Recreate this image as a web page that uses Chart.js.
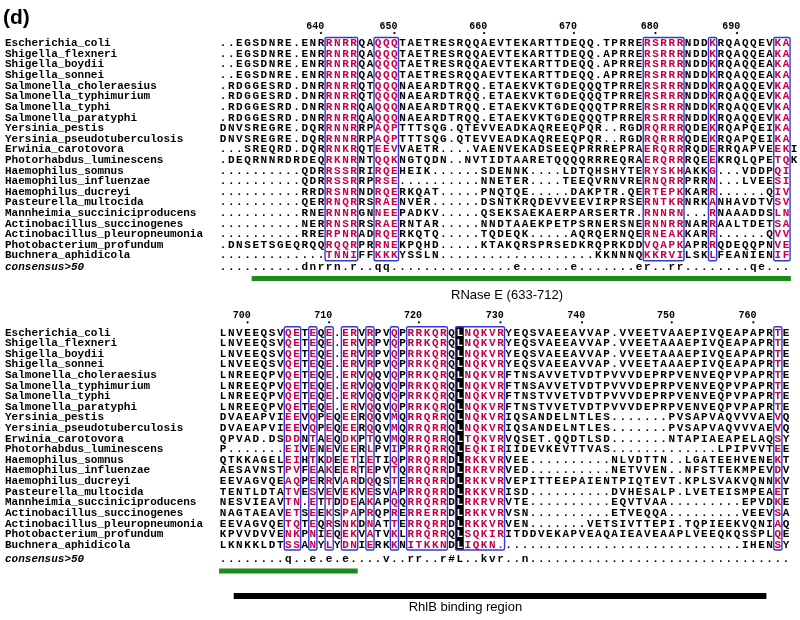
<!DOCTYPE html>
<html>
<head>
<meta charset="utf-8">
<script src="https://cdn.jsdelivr.net/npm/chart.js@4.4.1/dist/chart.umd.min.js"></script>
<style>
  html, body { margin: 0; padding: 0; background: #fff; }
  #wrap { width: 800px; height: 620px; }
</style>
</head>
<body>
<div id="wrap"><canvas id="aln" width="800" height="620"></canvas></div>
<script>
// RNase E C-terminal alignment, panel (d)

const species = [
    'Escherichia_coli', 'Shigella_flexneri', 'Shigella_boydii', 'Shigella_sonnei',
    'Salmonella_choleraesius', 'Salmonella_typhimurium', 'Salmonella_typhi', 'Salmonella_paratyphi',
    'Yersinia_pestis', 'Yersinia_pseudotuberculosis', 'Erwinia_carotovora', 'Photorhabdus_luminescens',
    'Haemophilus_somnus', 'Haemophilus_influenzae', 'Haemophilus_ducreyi', 'Pasteurella_multocida',
    'Mannheimia_succiniciproducens', 'Actinobacillus_succinogenes', 'Actinobacillus_pleuropneumonia',
    'Photobacterium_profundum', 'Buchnera_aphidicola'
];
const consensusName = 'consensus>50';

// block 1 (633-712)
const ticksA = [640, 650, 660, 670, 680, 690];
const tickColsA = [13, 22, 33, 44, 54, 64];
const seqsA = [
    '..EGSDNRE.ENRRNRRQAQQQTAETRESRQQAEVTEKARTTDEQQ.TPRRERSRRRNDDKRQAQQEVKA',
    '..EGSDNRE.ENRRNRRQAQQQTAETRESRQQAEVTEKARTTDEQQ.APRRERSRRRNDDKRQAQQEAKA',
    '..EGSDNRE.ENRRNRRQAQQQTAETRESRQQAEVTEKARTTDEQQ.APRRERSRRRNDDKRQAQQEAKA',
    '..EGSDNRE.ENRRNRRQAQQQTAETRESRQQAEVTEKARTTDEQQ.APRRERSRRRNDDKRQAQQEAKA',
    '.RDGGESRD.DNRRNRRQTQQQNAEARDTRQQ.ETAEKVKTGDEQQQTPRRERSRRRNDDKRQAQQEVKA',
    '.RDGGESRD.DNRRNRRQTQQQNAEARDTRQQ.ETAEKVKTGDEQQQTPRRERSRRRNDDKRQAQQEVKA',
    '.RDGGESRD.DNRRNRRQAQQQNAEARDTRQQ.ETAEKVKTGDEQQQTPRRERSRRRNDDKRQAQQEVKA',
    '.RDGGESRD.DNRRNRRQAQQQNAEARDTRQQ.ETAEKVKTGDEQQQTPRRERSRRRNDDKRQAQQEVKA',
    'DNVSREGRE.DQRRNNRRPAQPTTTSQG.QTEVVEADKAQREEQPQR..RGDRQRRRQDEKRQAPQEIKA',
    'DNVSREGRE.DQRRNNRRPAQPTTTSQG.QTEVVEADKAQREEQPQR..RGDRQRRRQDEKRQAPQEIKA',
    '...SREQRD.DQRRNKRQTEEVVAETR....VAENVEKADSEEQPRRREPRAERQRRRQDERRQAPVEEKI',
    '.DEQRNNRDRDEQRKNRNTQQKNGTQDN..NVTIDTAARETQQQQRRREQRAERQRRRQEEKRQLQPETQK',
    '..........QDRRSSRRIRQEHEIK......SDENNK....LDTQHSHYTERYSKHAKKG...VDDPQI',
    '..........QDRRSSRRPRSE..........NNETER....TEEQVRNVRERNQRRPRRN...LVEESI',
    '..........RRDRSNRNDRQERKQAT.....PNQTQE.....DAKPTR.QERTEPKKARR......QIV',
    '..........QERRNQRRSRAENVER......DSNTKRQDEVVEEVIRPRSERNTKRNRKANHAVDTVSV',
    '..........RNERNNRGNNEEPADKV.....QSEKSAEKAERPARSERTR.RNNRN...RNAAADDSLN',
    '..........NERRNSRRSRAERNTAR.....NNDTAAEKPETPSRNERSNERNNRRNARRAALTDETSA',
    '..........RRERPNRADRQERKQTQ.....TQDEQK.....AQRQERNQERNEAKKARR......QVV',
    '.DNSETSGEQRQQRQQRPRRNEKPQHD.....KTAKQRSPRSEDKRQPRKDDVQAPKAPRRQDEQQPNVE',
    '.............TNNIFFKKKYSSLN...................KKNNNQKKRVILSKLFEANIENIF'
];
const consensusA = '..........dnrrn.r..qq...............e......e.......er..rr........qe...';
const boxesA = [[14, 17], [20, 22], [53, 57], [61, 61], [69, 70]];
const identicalA = [];

// block 2 (700-770)
const ticksB = [700, 710, 720, 730, 740, 750, 760];
const tickColsB = [4, 14, 25, 35, 45, 56, 66];
const seqsB = [
    'LNVEEQSVQETEQE.ERVRPVQPRRKQRQLNQKVRYEQSVAEEAVVAP.VVEETVAAEPIVQEAPAPRTE',
    'LNVEEQSVQETEQE.ERVRPVQPRRKQRQLNQKVRYEQSVAEEAVVAP.VVEETAAAEPIVQEAPAPRTE',
    'LNVEEQSVQETEQE.ERVRPVQPRRKQRQLNQKVRYEQSVAEEAVVAP.VVEETAAAEPIVQEAPAPRTE',
    'LNVEEQSVQETEQE.ERVRPVQPRRKQRQLNQKVRYEQSVAEEAVVAP.VVEETAAAEPIVQEAPAPRTE',
    'LNREEQPVQETEQE.ERVQQVQPRRKQRQLNQKVRFTNSAVVETVDTPVVVDEPRPVENVEQPVPAPRTE',
    'LNREEQPVQETEQE.ERVQQVQPRRKQRQLNQKVRFTNSAVVETVDTPVVVDEPRPVENVEQPVPAPRTE',
    'LNREEQPVQETEQE.ERVQQVQPRRKQRQLNQKVRFTNSTVVETVDTPVVVDEPRPVENVEQPVPAPRTE',
    'LNREEQPVQETEQE.ERVQQVQPRRKQRQLNQKVRFTNSTVVETVDTPVVVDEPRPVENVEQPVPAPRTE',
    'DVAEAPVIEEVQPEQEERQQVMQRRQRRQLNQKVRIQSANDELNTLES.......PVSAPVAQVVVAEVQ',
    'DVAEAPVIEEVQPEQEERQQVMQRRQRRQLNQKVRIQSANDELNTLES.......PVSAPVAQVVVAEVQ',
    'QPVAD.DSDDNTAEQDKPTQVMQRRQRRQLTQKVRVQSET.QQDTLSD.......NTAPIAEAPELAQSY',
    'P.......EIVENEVEERLPVIPRRQRRQLEQKIRIIDEVKEVTTVAS.............LPIPVVTEE',
    'QTKKAGELEIHTKDEETIETIQPRRQRRDLRKKVRVEE..........NLVDTTN..LGATEEHVENEKT',
    'AESAVNSTPVFEAKEERTEPVTQRRQRRDLRKRVRVED..........NETVVEN..NFSTTEKMPEVDV',
    'EEVAGVQEAQPERRVARDQQSTERRQRRDLRKKVRVEPITTEEPAIENTPIQTEVT.KPLSVAKVQNNKV',
    'TENTLDTATVESVEVEKVESVAPRRQRRDLRKKVRISD..........DVHESALP.LVETEISMPEAET',
    'NESVIEAVTN.ETTDDEAKAPQQRRQRRDLRKRVRVTE..........EQVTVAA.........EPVDKE',
    'NAGTAEAVETSEEKSPAPRQPRERRERRDLRKKVRVSN..........ETVEQQA.........VEEVSA',
    'EEVAGVQETQTEQRSNKDNATTERRQRRDLRKKVRVEN.......VETSIVTTEPI.TQPIEEKVQNIAQ',
    'KPVVDVVENKPNIEQEKVATVKLRRQRRQLSQKIRITDDVEKAPVEAQAIEAVEAAPLVEEQKQSSPLQE',
    'LKNKKLDTSSANYLYDNIERKKNITKKNDLIQKN..............................IHENSY'
];
const consensusB = '........q..e.e.e....v..rr..r#L..kvr..n................................';
const boxesB = [[9, 10], [12, 12], [14, 14], [16, 17], [19, 19], [22, 22], [24, 28], [30, 35], [69, 69]];
const identicalB = [30];

// annotated regions, in alignment columns
const rnaseSpanA = [4.5, 70.6];
const rnaseSpanB = [0.5, 17.5];
const rhlbSpanB = [2.3, 67.6];

// geometry of the picture
const W = 800, H = 620;
const COL_W = 8.24, SEQ_X0 = 217.2;   // left edge of column 1
const ROW_H = 10.75, ROW_Y0 = 40;     // centre of first row
const NAME_X = 5;
const RED = '#c8004a', BOX_BLUE = '#3636d6', GREEN = '#1a8a1a';

// offsets in rows from the first sequence row of each block
const blocks = [
    { row0: 1, seqs: seqsA, consensus: consensusA, ticks: ticksA, tickCols: tickColsA, boxes: boxesA, identical: identicalA,
      consOff: 21.12, greenOff: 22.14 },
    { row0: 28.26, seqs: seqsB, consensus: consensusB, ticks: ticksB, tickCols: tickColsB, boxes: boxesB, identical: identicalB,
      consOff: 21.3, greenOff: 22.45 }
];
const OFF = { header: -1.58, dot: -0.98, label: 23.72, black: 24.8, blackLabel: 25.86 };

const datasets = [];
blocks.forEach(b => {
    datasets.push({
        type: 'scatter',
        data: b.tickCols.map(c => ({ x: c, y: b.row0 + OFF.dot })),
        pointRadius: 1.1, pointBackgroundColor: '#000', pointBorderWidth: 0
    });
});
const bar = (span, yv, color, w) => ({
    type: 'line',
    data: [{ x: span[0], y: yv }, { x: span[1], y: yv }],
    borderColor: color, borderWidth: w, borderCapStyle: 'butt',
    pointRadius: 0, fill: false, tension: 0
});
datasets.push(bar(rnaseSpanA, blocks[0].row0 + blocks[0].greenOff, GREEN, 5));
datasets.push(bar(rnaseSpanB, blocks[1].row0 + blocks[1].greenOff, GREEN, 5));
datasets.push(bar(rhlbSpanB, blocks[1].row0 + OFF.black, '#000', 6));

const alignmentPlugin = {
    id: 'alignment',
    beforeDatasetsDraw(chart) {
        const { ctx, scales: { x, y } } = chart;
        ctx.save();
        blocks.forEach(b => {
            const top = y.getPixelForValue(b.row0) - 6;
            const bottom = y.getPixelForValue(b.row0 + b.seqs.length - 1) + 5;
            ctx.fillStyle = '#000';
            b.identical.forEach(c => {
                const l = x.getPixelForValue(c - 0.5), r = x.getPixelForValue(c + 0.5);
                ctx.fillRect(l, top, r - l, bottom - top);
            });
        });
        ctx.restore();
    },
    afterDatasetsDraw(chart) {
        const { ctx, scales: { x, y } } = chart;
        ctx.save();

        ctx.font = 'bold 21px "Liberation Sans", Arial, sans-serif';
        ctx.fillStyle = '#000';
        ctx.textAlign = 'left';
        ctx.textBaseline = 'alphabetic';
        ctx.fillText('(d)', 3, 24);
        ctx.textBaseline = 'middle';

        blocks.forEach(b => {
            // names
            ctx.textAlign = 'left';
            ctx.fillStyle = '#000';
            ctx.font = 'bold 11px "Liberation Mono", monospace';
            species.forEach((n, i) => ctx.fillText(n, NAME_X, y.getPixelForValue(b.row0 + i)));
            ctx.font = 'italic bold 11px "Liberation Mono", monospace';
            ctx.fillText(consensusName, NAME_X, y.getPixelForValue(b.row0 + b.consOff));

            // residue numbers
            ctx.textAlign = 'right';
            ctx.font = 'bold 10px "Liberation Mono", monospace';
            b.ticks.forEach((t, i) => {
                ctx.fillText(String(t), x.getPixelForValue(b.tickCols[i]) + 3.2, y.getPixelForValue(b.row0 + OFF.header));
            });

            // residues
            ctx.textAlign = 'center';
            ctx.font = 'bold 11px "Liberation Mono", monospace';
            const inBox = c => b.boxes.some(([a, z]) => c >= a && c <= z);
            b.seqs.forEach((s, r) => {
                const py = y.getPixelForValue(b.row0 + r);
                for (let c = 1; c <= s.length; c++) {
                    if (b.identical.includes(c)) ctx.fillStyle = '#fff';
                    else ctx.fillStyle = inBox(c) ? RED : '#000';
                    ctx.fillText(s[c - 1], x.getPixelForValue(c), py);
                }
            });
            // consensus line
            ctx.fillStyle = '#000';
            const cy = y.getPixelForValue(b.row0 + b.consOff);
            for (let c = 1; c <= b.consensus.length; c++) {
                ctx.fillText(b.consensus[c - 1], x.getPixelForValue(c), cy);
            }

            // similarity boxes
            const top = y.getPixelForValue(b.row0) - 6;
            const bottom = y.getPixelForValue(b.row0 + b.seqs.length - 1) + 5;
            ctx.strokeStyle = BOX_BLUE;
            ctx.lineWidth = 1.4;
            b.boxes.forEach(([a, z]) => {
                const l = x.getPixelForValue(a - 0.5), r = x.getPixelForValue(z + 0.5);
                ctx.beginPath();
                if (ctx.roundRect) ctx.roundRect(l, top, r - l, bottom - top, 1.5);
                else ctx.rect(l, top, r - l, bottom - top);
                ctx.stroke();
            });
        });

        // region captions
        ctx.fillStyle = '#000';
        ctx.textAlign = 'center';
        ctx.font = '13px "Liberation Sans", Arial, sans-serif';
        ctx.fillText('RNase E (633-712)', x.getPixelForValue(35.8), y.getPixelForValue(blocks[0].row0 + OFF.label));
        ctx.fillText('RhlB binding region', x.getPixelForValue(30.7), y.getPixelForValue(blocks[1].row0 + OFF.blackLabel));
        ctx.restore();
    }
};

new Chart(document.getElementById('aln'), {
    type: 'scatter',
    data: { datasets: datasets },
    options: {
        responsive: false,
        animation: false,
        devicePixelRatio: 1,
        events: [],
        layout: { padding: 0 },
        clip: false,
        plugins: { legend: { display: false }, tooltip: { enabled: false } },
        scales: {
            x: { type: 'linear', display: false, min: 0.5 - SEQ_X0 / COL_W, max: 0.5 + (W - SEQ_X0) / COL_W },
            y: { type: 'linear', display: false, reverse: true, min: 1 - ROW_Y0 / ROW_H, max: 1 + (H - ROW_Y0) / ROW_H }
        }
    },
    plugins: [alignmentPlugin]
});
</script>
</body>
</html>
